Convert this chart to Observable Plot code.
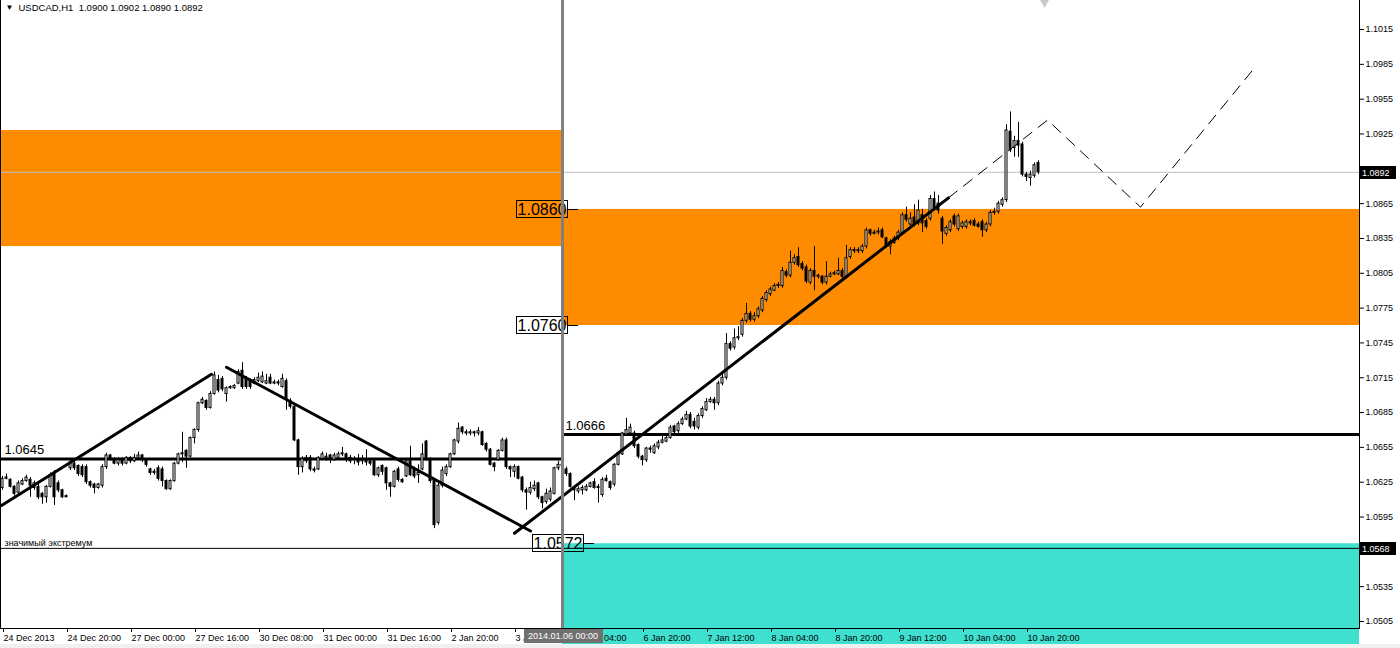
<!DOCTYPE html>
<html><head><meta charset="utf-8">
<script src="https://cdn.jsdelivr.net/npm/d3@7"></script>
<script src="https://cdn.jsdelivr.net/npm/@observablehq/plot@0.6"></script>
<style>
html,body{margin:0;padding:0;background:#fff;}
#chart svg{display:block;}
</style></head><body><div id="chart"></div>
<script>
// ---- candle data (USDCAD H1), bar index = position in arrays ----
const opens = [
1.0620,1.0628,1.0627,1.0621,1.0616,1.0623,1.0626,1.0627,1.0620,1.0621,
1.0615,1.0612,1.0621,1.0633,1.0624,1.0618,1.0613,1.0637,1.0641,1.0639,
1.0638,1.0638,1.0625,1.0623,1.0620,1.0622,1.0638,1.0648,1.0645,1.0641,
1.0644,1.0641,1.0646,1.0643,1.0646,1.0648,1.0644,1.0636,1.0633,1.0637,
1.0636,1.0626,1.0619,1.0626,1.0641,1.0649,1.0652,1.0647,1.0663,1.0670,
1.0693,1.0695,1.0689,1.0701,1.0713,1.0714,1.0701,1.0706,1.0706,1.0710,
1.0721,1.0714,1.0712,1.0710,1.0712,1.0711,1.0710,1.0715,1.0710,1.0711,
1.0707,1.0712,1.0695,1.0690,1.0661,1.0638,1.0646,1.0646,1.0636,1.0636,
1.0645,1.0646,1.0648,1.0644,1.0646,1.0649,1.0649,1.0646,1.0644,1.0645,
1.0643,1.0644,1.0643,1.0643,1.0631,1.0639,1.0637,1.0624,1.0621,1.0636,
1.0627,1.0630,1.0643,1.0636,1.0631,1.0636,1.0660,1.0644,1.0626,1.0590,
1.0622,1.0632,1.0638,1.0649,1.0660,1.0672,1.0668,1.0667,1.0668,1.0667,
1.0668,1.0658,1.0653,1.0641,1.0644,1.0652,1.0661,1.0638,1.0634,1.0638,
1.0629,1.0618,1.0616,1.0619,1.0624,1.0612,1.0608,1.0610,1.0615,1.0637,
1.0640,1.0636,1.0632,1.0619,1.0617,1.0618,1.0618,1.0621,1.0625,1.0620,
1.0614,1.0628,1.0625,1.0623,1.0640,1.0649,1.0666,1.0667,1.0667,1.0657,
1.0647,1.0644,1.0654,1.0650,1.0655,1.0659,1.0660,1.0663,1.0673,1.0669,
1.0675,1.0679,1.0683,1.0677,1.0672,1.0682,1.0687,1.0694,1.0696,1.0693,
1.0710,1.0715,1.0744,1.0741,1.0749,1.0752,1.0764,1.0770,1.0765,1.0768,
1.0773,1.0782,1.0787,1.0790,1.0794,1.0794,1.0806,1.0803,1.0814,1.0819,
1.0813,1.0810,1.0797,1.0807,1.0802,1.0802,1.0797,1.0802,1.0804,1.0804,
1.0807,1.0802,1.0819,1.0825,1.0824,1.0824,1.0828,1.0842,1.0839,1.0840,
1.0842,1.0835,1.0828,1.0831,1.0835,1.0840,1.0855,1.0847,1.0853,1.0848,
1.0855,1.0850,1.0852,1.0869,1.0865,1.0852,1.0839,1.0842,1.0854,1.0843,
1.0845,1.0845,1.0848,1.0850,1.0847,1.0849,1.0842,1.0847,1.0857,1.0858,
1.0864,1.0868,1.0927,1.0913,1.0919,1.0916,1.0890,1.0887,1.0889,1.0900];
const highs = [
1.0630,1.0632,1.0628,1.0622,1.0626,1.0628,1.0631,1.0629,1.0626,1.0623,
1.0616,1.0622,1.0633,1.0635,1.0626,1.0619,1.0614,1.0644,1.0643,1.0640,
1.0640,1.0640,1.0626,1.0624,1.0624,1.0640,1.0650,1.0649,1.0646,1.0646,
1.0646,1.0647,1.0647,1.0649,1.0651,1.0649,1.0645,1.0637,1.0636,1.0639,
1.0638,1.0627,1.0627,1.0642,1.0650,1.0668,1.0653,1.0664,1.0671,1.0694,
1.0698,1.0696,1.0703,1.0720,1.0717,1.0716,1.0707,1.0708,1.0709,1.0722,
1.0728,1.0716,1.0714,1.0715,1.0719,1.0720,1.0718,1.0718,1.0713,1.0713,
1.0718,1.0714,1.0697,1.0691,1.0662,1.0647,1.0648,1.0648,1.0638,1.0647,
1.0651,1.0650,1.0649,1.0650,1.0651,1.0655,1.0650,1.0648,1.0647,1.0649,
1.0648,1.0653,1.0645,1.0645,1.0638,1.0640,1.0638,1.0625,1.0635,1.0638,
1.0628,1.0645,1.0656,1.0638,1.0640,1.0658,1.0661,1.0646,1.0628,1.0624,
1.0638,1.0640,1.0650,1.0662,1.0676,1.0673,1.0670,1.0670,1.0669,1.0672,
1.0669,1.0659,1.0654,1.0642,1.0653,1.0663,1.0663,1.0639,1.0640,1.0639,
1.0630,1.0620,1.0625,1.0626,1.0625,1.0613,1.0619,1.0620,1.0638,1.0643,
1.0641,1.0638,1.0633,1.0622,1.0621,1.0622,1.0623,1.0625,1.0628,1.0623,
1.0629,1.0631,1.0626,1.0641,1.0651,1.0668,1.0680,1.0675,1.0669,1.0658,
1.0648,1.0655,1.0656,1.0658,1.0661,1.0665,1.0667,1.0674,1.0674,1.0677,
1.0681,1.0686,1.0685,1.0680,1.0684,1.0690,1.0697,1.0698,1.0698,1.0712,
1.0718,1.0753,1.0746,1.0757,1.0759,1.0766,1.0779,1.0772,1.0771,1.0776,
1.0785,1.0790,1.0793,1.0796,1.0797,1.0810,1.0808,1.0824,1.0821,1.0827,
1.0815,1.0812,1.0809,1.0828,1.0804,1.0803,1.0815,1.0806,1.0807,1.0818,
1.0809,1.0829,1.0827,1.0827,1.0827,1.0830,1.0844,1.0843,1.0842,1.0844,
1.0844,1.0836,1.0834,1.0837,1.0842,1.0857,1.0862,1.0857,1.0864,1.0868,
1.0860,1.0852,1.0872,1.0875,1.0872,1.0854,1.0846,1.0851,1.0856,1.0856,
1.0850,1.0851,1.0851,1.0852,1.0849,1.0851,1.0849,1.0859,1.0861,1.0867,
1.0870,1.0933,1.0944,1.0923,1.0935,1.0918,1.0892,1.0893,1.0900,1.0902];
const lows = [
1.0618,1.0627,1.0620,1.0613,1.0614,1.0622,1.0625,1.0612,1.0618,1.0610,
1.0606,1.0607,1.0620,1.0605,1.0616,1.0611,1.0612,1.0635,1.0635,1.0630,
1.0629,1.0623,1.0620,1.0615,1.0619,1.0620,1.0636,1.0643,1.0640,1.0639,
1.0639,1.0640,1.0641,1.0642,1.0645,1.0642,1.0638,1.0631,1.0631,1.0626,
1.0621,1.0618,1.0618,1.0625,1.0640,1.0642,1.0637,1.0646,1.0658,1.0668,
1.0692,1.0687,1.0688,1.0700,1.0702,1.0703,1.0694,1.0705,1.0705,1.0709,
1.0705,1.0705,1.0705,1.0709,1.0711,1.0710,1.0709,1.0709,1.0709,1.0708,
1.0706,1.0687,1.0688,1.0660,1.0631,1.0633,1.0641,1.0634,1.0633,1.0635,
1.0644,1.0643,1.0641,1.0643,1.0645,1.0647,1.0642,1.0641,1.0640,1.0639,
1.0640,1.0639,1.0639,1.0630,1.0629,1.0631,1.0618,1.0612,1.0620,1.0625,
1.0624,1.0629,1.0630,1.0628,1.0624,1.0635,1.0643,1.0624,1.0585,1.0588,
1.0620,1.0630,1.0637,1.0648,1.0658,1.0666,1.0665,1.0665,1.0664,1.0665,
1.0656,1.0651,1.0639,1.0634,1.0643,1.0651,1.0636,1.0629,1.0629,1.0627,
1.0616,1.0601,1.0614,1.0617,1.0610,1.0602,1.0606,1.0608,1.0614,1.0635,
1.0635,1.0630,1.0620,1.0609,1.0615,1.0614,1.0617,1.0620,1.0619,1.0607,
1.0612,1.0625,1.0618,1.0621,1.0639,1.0648,1.0665,1.0665,1.0654,1.0645,
1.0639,1.0642,1.0650,1.0649,1.0653,1.0658,1.0659,1.0662,1.0666,1.0667,
1.0674,1.0678,1.0671,1.0670,1.0670,1.0680,1.0686,1.0693,1.0687,1.0691,
1.0708,1.0713,1.0738,1.0739,1.0747,1.0750,1.0762,1.0763,1.0763,1.0766,
1.0771,1.0780,1.0785,1.0789,1.0792,1.0792,1.0801,1.0801,1.0812,1.0810,
1.0807,1.0796,1.0795,1.0790,1.0800,1.0795,1.0795,1.0801,1.0803,1.0803,
1.0800,1.0800,1.0817,1.0822,1.0822,1.0822,1.0826,1.0837,1.0838,1.0838,
1.0835,1.0827,1.0821,1.0830,1.0833,1.0838,1.0849,1.0845,1.0845,1.0846,
1.0840,1.0843,1.0850,1.0859,1.0856,1.0830,1.0837,1.0840,1.0845,1.0841,
1.0843,1.0843,1.0846,1.0845,1.0844,1.0836,1.0840,1.0845,1.0855,1.0856,
1.0862,1.0866,1.0909,1.0905,1.0905,1.0888,1.0884,1.0880,1.0887,1.0890];
const closes = [
1.0628,1.0629,1.0621,1.0615,1.0624,1.0626,1.0629,1.0622,1.0624,1.0612,
1.0612,1.0621,1.0631,1.0612,1.0618,1.0612,1.0612,1.0642,1.0637,1.0632,
1.0631,1.0625,1.0622,1.0620,1.0623,1.0638,1.0648,1.0645,1.0641,1.0644,
1.0641,1.0646,1.0643,1.0646,1.0648,1.0644,1.0640,1.0633,1.0634,1.0628,
1.0626,1.0619,1.0626,1.0641,1.0649,1.0650,1.0647,1.0663,1.0670,1.0693,
1.0696,1.0689,1.0701,1.0717,1.0704,1.0705,1.0706,1.0707,1.0708,1.0720,
1.0707,1.0707,1.0707,1.0713,1.0715,1.0716,1.0712,1.0710,1.0711,1.0710,
1.0714,1.0696,1.0690,1.0661,1.0638,1.0645,1.0643,1.0636,1.0635,1.0646,
1.0649,1.0647,1.0644,1.0648,1.0649,1.0650,1.0644,1.0643,1.0645,1.0642,
1.0644,1.0642,1.0641,1.0631,1.0637,1.0634,1.0624,1.0621,1.0634,1.0627,
1.0625,1.0643,1.0631,1.0630,1.0633,1.0649,1.0644,1.0626,1.0588,1.0622,
1.0635,1.0638,1.0649,1.0661,1.0671,1.0668,1.0667,1.0668,1.0667,1.0669,
1.0657,1.0653,1.0640,1.0638,1.0652,1.0661,1.0638,1.0636,1.0638,1.0628,
1.0618,1.0616,1.0620,1.0622,1.0612,1.0607,1.0615,1.0617,1.0637,1.0640,
1.0639,1.0632,1.0621,1.0618,1.0619,1.0620,1.0621,1.0624,1.0620,1.0621,
1.0627,1.0626,1.0620,1.0640,1.0650,1.0667,1.0670,1.0672,1.0656,1.0647,
1.0644,1.0654,1.0653,1.0656,1.0659,1.0661,1.0663,1.0672,1.0668,1.0675,
1.0679,1.0683,1.0673,1.0673,1.0682,1.0688,1.0694,1.0696,1.0693,1.0710,
1.0715,1.0744,1.0740,1.0749,1.0750,1.0764,1.0770,1.0765,1.0768,1.0774,
1.0783,1.0788,1.0791,1.0794,1.0795,1.0807,1.0803,1.0814,1.0818,1.0812,
1.0809,1.0798,1.0807,1.0802,1.0803,1.0797,1.0802,1.0804,1.0805,1.0807,
1.0802,1.0818,1.0825,1.0824,1.0825,1.0828,1.0842,1.0839,1.0840,1.0841,
1.0836,1.0829,1.0832,1.0835,1.0840,1.0855,1.0851,1.0852,1.0847,1.0859,
1.0848,1.0845,1.0869,1.0861,1.0859,1.0841,1.0844,1.0849,1.0847,1.0854,
1.0848,1.0849,1.0849,1.0846,1.0845,1.0842,1.0847,1.0857,1.0858,1.0865,
1.0868,1.0928,1.0911,1.0919,1.0915,1.0890,1.0888,1.0890,1.0898,1.0892];

// ---- axis ticks ----
const xTickBars = [0,16,32,48,64,80,96,112,128,144,160,176,192,208,224,240,256];
const xTickLabels = ["24 Dec 2013","24 Dec 20:00","27 Dec 00:00","27 Dec 16:00","30 Dec 08:00",
  "31 Dec 00:00","31 Dec 16:00","2 Jan 20:00","3 Jan 12:00","6 Jan 04:00","6 Jan 20:00",
  "7 Jan 12:00","8 Jan 04:00","8 Jan 20:00","9 Jan 12:00","10 Jan 04:00","10 Jan 20:00"];
const yTicks = [1.0505,1.0535,1.0565,1.0595,1.0625,1.0655,1.0685,1.0715,1.0745,1.0775,
  1.0805,1.0835,1.0865,1.0895,1.0925,1.0955,1.0985,1.1015];

// ---- zones (rectangles): bar range and price range ----
const zoneStart = [-0.25, 140, 140];
const zoneEnd = [140, 339.25, 339.25];
const zoneLow = [1.0828, 1.0760, 1.0470];
const zoneHigh = [1.0928, 1.0860, 1.0572];

// ---- horizontal levels ----
const levelPrices = [1.0645, 1.0666];
const levelStart = [-0.25, 140];
const levelEnd = [140, 339.25];
const extremumPrice = 1.0568;
const extremumText = "значимый экстремум";
const lastPrice = 1.0892;

// ---- trend lines (bar, price) ----
const trendId = ["a","a","b","b","c","c"];
const trendBars = [-0.25, 52.25, 56, 132, 128, 236.5];
const trendPrices = [1.0605, 1.0718, 1.0724, 1.0583, 1.0581, 1.0870];

// ---- dashed forecast zigzag ----
const forecastBars = [236.5, 261.25, 284.5, 313.25];
const forecastPrices = [1.0870, 1.0937, 1.0862, 1.0983];

// ---- marker object at the top edge ----
const markerBars = [260.5];
const markerPrices = [1.10409];

// ---- labelled rectangle prices ----
const rectLabelPrices = [1.0860, 1.0760, 1.0572];
const rectLabelBars = [141.5, 141.5, 145.5];

const cursorBar = 140;
const cursorLabel = "2014.01.06 00:00";
const titleText = "USDCAD,H1\u00a0\u00a01.0900 1.0902 1.0890 1.0892";

// ---- build ----
const candles = opens.map((o, i) => ({i, open: o, high: highs[i], low: lows[i], close: closes[i]}));
const up = candles.filter(d => d.close >= d.open);
const down = candles.filter(d => d.close < d.open);
const zones = zoneStart.map((s, k) => ({x1: s, x2: zoneEnd[k], y1: zoneLow[k], y2: zoneHigh[k]}));
const levels = levelPrices.map((p, k) => ({p, x1: levelStart[k], x2: levelEnd[k]}));
const trends = trendBars.map((b, k) => ({id: trendId[k], b, p: trendPrices[k]}));
const forecast = forecastBars.map((b, k) => ({b, p: forecastPrices[k]}));
const markers = markerBars.map((b, k) => ({b, p: markerPrices[k]}));
const FONT = "'Liberation Sans', Arial, sans-serif";

function rectLabels(index, scales) {
  const {x, y} = scales;
  const g = d3.create("svg:g").attr("font-family", FONT).attr("font-size", 16);
  rectLabelPrices.forEach((p, k) => {
    const xr = Math.round(x(rectLabelBars[k])), yc = Math.round(y(p));
    g.append("rect").attr("x", xr - 51.5).attr("y", yc - 8.5).attr("width", 51).attr("height", 17)
      .attr("fill", "none").attr("stroke", "black");
    g.append("line").attr("x1", xr - 0.5).attr("x2", xr + 10).attr("y1", yc + 0.5).attr("y2", yc + 0.5)
      .attr("stroke", "black");
    g.append("text").attr("x", xr - 26).attr("y", yc + 6).attr("text-anchor", "middle")
      .attr("fill", "black").text(p.toFixed(4));
  });
  return g.node();
}

function overlay(index, scales, values, dims) {
  const {x, y} = scales;
  const {width, height, marginRight, marginBottom} = dims;
  const right = width - marginRight, bottom = height - marginBottom;
  const g = d3.create("svg:g").attr("font-family", FONT).attr("font-size", 9);
  // frame lines
  g.append("line").attr("x1", 0.5).attr("x2", 0.5).attr("y1", 0).attr("y2", bottom).attr("stroke", "black");
  g.append("line").attr("x1", 0).attr("x2", right + 1).attr("y1", bottom + 0.5).attr("y2", bottom + 0.5).attr("stroke", "black");
  g.append("line").attr("x1", right + 0.5).attr("x2", right + 0.5).attr("y1", 0).attr("y2", bottom + 1).attr("stroke", "black");
  // price tags on right axis
  [lastPrice, extremumPrice].forEach(p => {
    const yc = Math.round(y(p));
    g.append("rect").attr("x", right + 1).attr("y", yc - 6).attr("width", 36).attr("height", 13).attr("fill", "black");
    g.append("text").attr("x", right + 3).attr("y", yc + 4).attr("text-anchor", "start")
      .attr("fill", "white").text(p.toFixed(4));
  });
  // cursor date box
  const xc = Math.round(x(cursorBar));
  g.append("rect").attr("x", xc - 38).attr("y", bottom + 1).attr("width", 79).attr("height", 14).attr("fill", "#707070");
  g.append("text").attr("x", xc + 1).attr("y", bottom + 11).attr("text-anchor", "middle").attr("fill", "white").text(cursorLabel);
  // bottom window strip
  g.append("rect").attr("x", 0).attr("y", height - 4).attr("width", width).attr("height", 4).attr("fill", "#F0F0F0");
  return g.node();
}

const chart = Plot.plot({
  width: 1400, height: 648,
  marginLeft: 1, marginRight: 41, marginTop: 0, marginBottom: 20,
  style: {fontFamily: FONT, background: "white", color: "black"},
  x: {type: "linear", domain: [-0.25, 339.25]},
  y: {type: "linear", domain: [1.049897, 1.104]},
  marks: [
    Plot.rect(zones.slice(0, 2), {x1: "x1", x2: "x2", y1: "y1", y2: "y2", fill: "#FF8C00"}),
    Plot.rect(zones.slice(2), {x1: "x1", x2: "x2", y1: "y1", y2: "y2", fill: "#40E0D0"}),
    Plot.ruleY([lastPrice], {y: d => d, x1: -0.25, x2: 339.25, stroke: "#C0C0C0", strokeWidth: 1}),
    Plot.ruleY([extremumPrice], {y: d => d, x1: -0.25, x2: 339.25, stroke: "black", strokeWidth: 1}),
    Plot.ruleY(levels, {y: "p", x1: "x1", x2: "x2", stroke: "black", strokeWidth: 3}),
    Plot.ruleX(candles, {x: "i", y1: "low", y2: "high", stroke: "black", strokeWidth: 1}),
    Plot.rect(up, {x1: d => d.i - 0.25, x2: d => d.i + 0.25, y1: "open", y2: "close", fill: "white", stroke: "black", strokeWidth: 1}),
    Plot.rect(down, {x1: d => d.i - 0.25, x2: d => d.i + 0.25, y1: "open", y2: "close", fill: "black", stroke: "black", strokeWidth: 1}),
    Plot.line(trends, {x: "b", y: "p", z: "id", stroke: "black", strokeWidth: 3}),
    Plot.line(forecast, {x: "b", y: "p", stroke: "black", strokeWidth: 1, strokeDasharray: "11,8"}),
    Plot.dot(markers, {x: "b", y: "p", symbol: "diamond", r: 5, fill: "#C8C8C8", stroke: "none"}),
    Plot.text(levels, {x: "x1", y: "p", text: d => d.p.toFixed(4), dx: 3, dy: -5, textAnchor: "start", lineAnchor: "bottom", fontSize: 13, fill: "black"}),
    Plot.text([extremumPrice], {x: -0.25, y: d => d, text: () => extremumText, dx: 3, dy: -2, textAnchor: "start", lineAnchor: "bottom", fontSize: 9, fill: "black"}),
    Plot.text([titleText], {frameAnchor: "top-left", text: d => d, dx: 17, dy: 4, textAnchor: "start", lineAnchor: "top", fontSize: 9.5, fill: "black"}),
    Plot.text(["\u25BC"], {frameAnchor: "top-left", text: d => d, dx: 4, dy: 4, textAnchor: "start", lineAnchor: "top", fontSize: 8, fill: "black"}),
    Plot.axisY({anchor: "right", ticks: yTicks, tickFormat: d => d.toFixed(4), tickSize: 4, tickPadding: 2, fontSize: 9, label: null}),
    Plot.axisX({anchor: "bottom", ticks: xTickBars, tickFormat: d => xTickLabels[xTickBars.indexOf(d)], tickSize: 4, tickPadding: 2, textAnchor: "start", dx: 1, fontSize: 9, label: null}),
    rectLabels,
    Plot.ruleX([cursorBar], {x: d => d, stroke: "#808080", strokeWidth: 3}),
    overlay
  ]
});
document.getElementById("chart").appendChild(chart);
</script>
</body></html>
